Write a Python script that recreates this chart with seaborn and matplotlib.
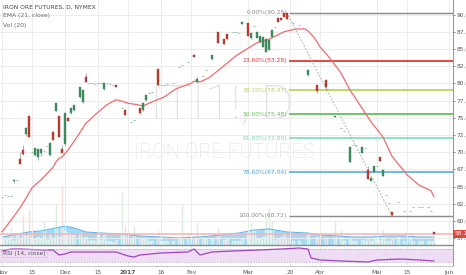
import numpy as np
import pandas as pd
import matplotlib
matplotlib.use("Agg")
import matplotlib.pyplot as plt
import matplotlib.transforms as mtransforms
import seaborn as sns

# ---------------- data (sessions counted from 2016-11-01) ----------------
session = [0, 1, 2, 3, 4, 5, 6, 7, 8, 9, 10, 11, 12, 13, 14, 15, 16, 17, 18, 19,
           20, 21, 22, 23, 24, 26, 27, 28, 29, 30, 31, 32, 33, 34, 35, 36, 37, 38,
           40, 41, 43, 44, 46, 47, 48, 49, 50, 52, 53, 54, 55, 57, 59, 60, 62,
           64, 65, 67, 68, 70, 72, 74, 75, 77, 78, 79, 80, 82, 83, 84, 85, 86,
           87, 88, 89, 90, 91, 92, 93, 94, 95, 97, 99, 102, 105, 108, 111, 113,
           114, 116, 117, 118, 120, 121, 122, 123, 124, 125, 126, 127, 128, 129,
           130, 132, 134, 136, 137, 139, 140, 142, 143, 144]
opens = [63.5, 63.7, 63.6, 63.6, 65.8, 65.9, 69.0, 70.3, 72.6, 75.2, 70.0, 69.6, 69.3, 69.8, 70.1, 70.9, 69.6, 72.9, 76.0, 75.2,
         70.4, 71.2, 75.0, 75.7, 76.1, 78.0, 77.3, 80.9, 80.0, 80.0, 79.9, 80.1, 80.0, 79.2, 80.0, 79.9, 79.8, 79.8,
         76.4, 76.1, 74.4, 74.7, 76.4, 76.1, 77.6, 78.6, 78.8, 82.1, 79.7, 79.8, 79.9, 80.0, 82.4, 82.6, 83.1,
         84.1, 80.2, 81.1, 81.9, 83.5, 87.5, 86.4, 87.2, 87.4, 87.5, 87.3, 88.6, 88.8, 86.6, 88.3, 86.6, 86.0,
         85.3, 84.5, 84.8, 86.7, 88.2, 89.5, 89.5, 90.2, 90.25, 88.8, 88.5, 81.2, 79.8, 80.5, 75.1, 73.5,
         73.1, 68.6, 71.1, 71.0, 69.9, 70.6, 67.4, 65.8, 67.1, 68.0, 69.3, 66.5, 63.8, 62.6,
         61.3, 62.7, 61.5, 61.4, 62.0, 62.0, 62.0, 62.0, 61.4, 58.35]
highs = [63.5, 63.7, 63.6, 63.6, 66.1, 65.9, 70.0, 71.0, 73.7, 75.2, 70.0, 70.6, 70.5, 70.5, 70.1, 70.9, 71.4, 73.0, 77.1, 75.3,
         71.0, 75.7, 75.1, 76.4, 76.8, 79.5, 79.0, 81.5, 80.0, 80.0, 79.9, 80.1, 80.0, 80.0, 80.0, 79.9, 79.8, 79.8,
         76.4, 76.2, 74.4, 74.7, 76.4, 77.1, 78.3, 78.6, 78.8, 82.1, 79.7, 79.8, 79.9, 80.0, 82.4, 82.6, 83.1,
         84.2, 80.9, 81.1, 81.9, 84.1, 87.5, 86.4, 87.2, 87.4, 87.5, 87.3, 88.9, 88.8, 87.3, 88.3, 87.5, 86.9,
         86.7, 86.4, 86.3, 87.7, 88.2, 89.6, 89.5, 90.2, 90.25, 88.8, 88.5, 81.9, 79.8, 80.5, 75.3, 73.5,
         73.1, 70.7, 71.1, 71.0, 70.7, 70.6, 68.0, 66.2, 68.0, 68.0, 69.3, 67.4, 63.8, 62.6,
         61.3, 62.7, 61.5, 61.4, 62.0, 62.0, 62.0, 62.0, 61.4, 58.4]
lows = [63.5, 63.7, 63.6, 63.6, 65.5, 65.9, 68.3, 69.6, 72.3, 72.2, 70.0, 69.4, 68.9, 69.5, 70.1, 70.9, 69.5, 71.8, 76.0, 72.2,
        69.8, 71.1, 74.5, 75.6, 76.0, 77.9, 77.2, 80.2, 80.0, 80.0, 79.9, 80.1, 80.0, 79.1, 80.0, 79.9, 79.8, 79.4,
        76.4, 75.4, 74.4, 74.7, 75.6, 76.0, 77.5, 78.6, 78.8, 79.6, 79.7, 79.8, 79.9, 80.0, 82.4, 82.6, 83.1,
        83.8, 80.0, 81.1, 81.9, 83.4, 85.9, 85.7, 86.5, 87.4, 87.5, 87.3, 88.6, 86.9, 86.5, 88.3, 86.6, 86.0,
        85.3, 84.5, 84.8, 86.7, 88.2, 88.9, 89.2, 89.6, 89.3, 88.8, 88.5, 81.1, 78.6, 79.0, 75.1, 73.5,
        73.1, 68.6, 71.1, 71.0, 69.9, 70.6, 66.1, 65.8, 67.1, 68.0, 68.7, 66.5, 63.8, 62.6,
        60.72, 62.7, 61.5, 61.4, 62.0, 62.0, 62.0, 62.0, 61.4, 58.15]
closes = [63.5, 63.7, 63.6, 63.6, 65.8, 65.9, 68.3, 69.7, 73.5, 72.2, 70.0, 70.6, 70.4, 70.4, 70.1, 70.9, 71.3, 71.8, 77.1, 72.2,
          69.9, 75.7, 74.5, 76.4, 76.8, 79.5, 79.0, 80.2, 80.0, 80.0, 79.9, 80.1, 80.0, 80.0, 80.0, 79.9, 79.8, 79.4,
          76.4, 75.4, 74.4, 74.7, 75.7, 77.1, 78.3, 78.6, 78.8, 79.8, 79.7, 79.8, 79.9, 80.0, 82.4, 82.6, 83.1,
          83.8, 80.6, 81.1, 81.9, 84.1, 85.9, 85.7, 86.5, 87.4, 87.5, 87.3, 88.9, 86.9, 87.3, 88.3, 87.5, 86.9,
          86.7, 86.4, 86.3, 87.7, 88.2, 88.9, 89.2, 89.6, 89.4, 88.8, 88.5, 81.9, 78.9, 79.5, 75.3, 73.5,
          73.1, 70.7, 71.1, 71.0, 70.7, 70.6, 66.1, 66.2, 68.0, 68.0, 68.7, 67.4, 63.8, 62.6,
          60.8, 62.7, 61.5, 61.4, 62.0, 62.0, 62.0, 62.0, 61.4, 58.15]
volume = [350, 60, 60, 180, 40, 120, 60, 300, 90, 350, 70, 60, 80, 60, 240, 50, 100, 60, 420, 80,
          600, 140, 120, 100, 100, 120, 70, 80, 40, 50, 40, 130, 50, 100, 40, 40, 30, 50,
          530, 200, 60, 190, 70, 60, 70, 40, 40, 150, 40, 40, 40, 40, 80, 420, 130,
          100, 230, 120, 60, 60, 180, 50, 60, 40, 40, 40, 60, 150, 220, 150, 60, 60,
          80, 280, 370, 250, 50, 60, 80, 120, 70, 40, 40, 120, 80, 70, 250, 150,
          40, 60, 40, 40, 50, 40, 70, 40, 100, 100, 50, 160, 40, 40,
          60, 80, 40, 80, 40, 40, 40, 40, 40, 40]

ema_session = [0, 3, 6, 8, 10, 14, 17, 18, 19, 20, 22, 25, 28, 32, 35, 38, 40, 42, 45, 47,
               50, 54, 58, 63, 64, 66, 69, 73, 78, 82, 85, 89, 94, 98, 101, 102, 104, 106, 109, 113,
               116, 120, 123, 127, 130, 135, 139, 143, 144]
ema_value = [58.4, 60.1, 61.9, 63.3, 64.8, 66.4, 67.8, 68.6, 69.1, 69.3, 70.3, 72.2, 74.2, 75.8, 76.9, 77.6, 77.4, 77.1, 76.9, 76.7,
             77.3, 78.0, 79.2, 80.0, 80.3, 80.2, 80.8, 82.2, 84.0, 85.1, 85.9, 86.4, 87.5, 87.9, 87.9, 87.6, 86.7, 85.3, 83.8, 81.5,
             79.0, 76.4, 74.4, 72.2, 69.4, 66.7, 65.2, 64.4, 63.5]

volma_session = [0, 9, 13, 18, 21, 24, 28, 33, 39, 46, 53, 59, 66, 73, 79, 84, 89, 95, 102, 106,
                 112, 117, 123, 128, 134, 139, 144]
volma_value = [80, 130, 140, 170, 190, 170, 130, 120, 110, 90, 80, 70, 80, 100, 120, 150, 160, 130, 120, 100,
               90, 80, 80, 90, 90, 80, 80]

rsi_session = [0, 3, 6, 14, 17, 19, 21, 23, 28, 33, 38, 42, 44, 46, 53, 62, 64, 66, 70, 77,
               86, 93, 99, 102, 103, 106, 113, 122, 125, 133, 139, 144]
rsi_value = [63.8, 70.0, 70.0, 66.9, 66.9, 51.5, 54.6, 60.8, 60.8, 60.8, 60.8, 48.5, 45.4, 51.5, 57.7, 60.8, 70.0, 51.5, 60.8, 63.8,
             66.9, 70.0, 73.0, 70.0, 42.3, 36.2, 33.1, 30.0, 36.2, 39.2, 36.2, 33.1]

tick_session = [0, 10, 21, 32, 42, 53, 63, 82, 96, 106, 125, 135, 149]
tick_labels = ["Nov", "15", "Dez", "15", "2017", "16", "Fev", "Mar", "20", "Abr", "Mai", "15", "Jun"]

fib_ratios = [0.0, 0.236, 0.382, 0.5, 0.618, 0.786, 1.0]
fib_high, fib_low = 90.25, 60.72
fib_high_session, fib_low_session = 95, 130
last_price = 58.15

# ---------------- styling ----------------
sns.set_theme(style="white")
plt.rcParams["font.family"] = ["DejaVu Sans"]

W, H = 466, 275
fig = plt.figure(figsize=(W / 100, H / 100), dpi=100)
fig.patch.set_facecolor("white")


def fx(px):
    return px / W


def fy(py):
    return 1 - py / H


ax = fig.add_axes([0, fy(245), fx(453), 245 / H])
axv = ax.twinx()
rsi = fig.add_axes([0, fy(266), fx(453), 20 / H])

xmin, xmax = -0.67, 150.33
ax.set_xlim(xmin, xmax)
rsi.set_xlim(xmin, xmax)
ax.set_ylim(56.5, 92.11)
axv.set_ylim(0, 2450)

ax.set_zorder(axv.get_zorder() + 1)
ax.patch.set_visible(False)
axv.patch.set_facecolor("white")

grid_c = "#ececec"
price_ticks = np.arange(57.5, 90.01, 2.5)
for t in tick_session:
    ax.axvline(t, color=grid_c, lw=0.7, zorder=0)
    rsi.axvline(t, color=grid_c, lw=0.7, zorder=0)
for t in price_ticks:
    ax.axhline(t, color=grid_c, lw=0.7, zorder=0)

df = pd.DataFrame({"session": session, "open": opens, "high": highs,
                   "low": lows, "close": closes, "volume": volume})

# volume
up = df["close"] >= df["open"]
axv.bar(df["session"][up], df["volume"][up], width=0.75, color="#b5dfb8", alpha=0.6, zorder=2)
axv.bar(df["session"][~up], df["volume"][~up], width=0.75, color="#ecb8b6", alpha=0.6, zorder=2)
vm = pd.DataFrame({"session": volma_session, "vol": volma_value})
axv.fill_between(vm["session"], 0, vm["vol"], color="#86cdf2", alpha=0.75, lw=0, zorder=1)
sns.lineplot(data=vm, x="session", y="vol", ax=axv, color="#5fbaea", lw=0.8, zorder=3)
axv.set_yticks([])
axv.set_ylabel("")
for s in axv.spines.values():
    s.set_visible(False)

# watermark
wm_font = ["Roboto", "DejaVu Sans"]
ax.text(fx(222), fy(106), "ITI1!, D", transform=fig.transFigure, ha="center", va="center",
        fontsize=35, color="#e2e2e2", zorder=0.5, family=wm_font, fontweight="light")
ax.text(fx(224), fy(152), "IRON ORE FUTURES", transform=fig.transFigure, ha="center", va="center",
        fontsize=14.5, color="#e2e2e2", zorder=0.5, family=wm_font, fontweight="light")

# EMA
ema_df = pd.DataFrame({"session": ema_session, "ema": ema_value})
sns.lineplot(data=ema_df, x="session", y="ema", ax=ax, color="#f26b6b", lw=0.9, zorder=4)

# candles
green_c, red_c, dash_c, wick_c = "#3d8a5c", "#b53a2f", "#9cc4a8", "#8c8c8c"
bw = 0.6
for _, r in df.iterrows():
    s, o, h, l, c = r["session"], r["open"], r["high"], r["low"], r["close"]
    if abs(c - o) < 0.05 and abs(h - l) < 0.05:
        ax.hlines(c, s - bw / 2, s + bw / 2, color=dash_c, lw=0.8, zorder=5)
        continue
    ax.vlines(s, l, h, color=wick_c, lw=0.5, zorder=5)
    col = green_c if c >= o else red_c
    lo, hi = min(o, c), max(o, c)
    if hi - lo < 0.15:
        hi = lo + 0.15
    ax.add_patch(plt.Rectangle((s - bw / 2, lo), bw, hi - lo, facecolor=col, edgecolor=col, lw=0.3, zorder=6))

# fibonacci
fib_cols = ["#8a8a8a", "#e53a33", "#b9d65c", "#63c25a", "#74d8b8", "#4aa3de", "#8a8a8a"]
fib_lw = [1.0, 1.3, 1.3, 1.3, 1.1, 1.1, 1.0]
for rto, col, lw in zip(fib_ratios, fib_cols, fib_lw):
    lvl = fib_high - rto * (fib_high - fib_low)
    ax.hlines(lvl, fib_high_session + 0.6, xmax, color=col, lw=lw, zorder=3)
    ax.text(fib_high_session, lvl, f"{rto * 100:.2f}%({lvl:.2f})", ha="right", va="center",
            fontsize=4.3, color=col, zorder=7)
ax.plot([fib_high_session, fib_low_session], [fib_high, fib_low], color="#a0a0a0",
        lw=0.6, ls=(0, (2, 2)), zorder=4)

# last price line & label
ax.axhline(last_price, color="#f5b3b3", lw=1.1, zorder=2)
trans = mtransforms.blended_transform_factory(ax.transAxes, ax.transData)
ax.text(1.004, last_price, f"{last_price:.2f}", transform=trans, ha="left", va="center",
        fontsize=4.2, color="white", clip_on=False, zorder=10,
        bbox=dict(boxstyle="square,pad=0.25", fc="#e0463a", ec="none"))

# price axis
ax.set_yticks(price_ticks)
ax.set_yticklabels([f"{t:.2f}" for t in price_ticks])
ax.yaxis.tick_right()
ax.tick_params(axis="y", labelsize=4.2, pad=1.2, length=1.5, width=0.5, colors="#555555")
ax.set_xticks([])
ax.set_xlabel("")
ax.set_ylabel("")
for k, s in ax.spines.items():
    s.set_visible(k in ("right", "bottom"))
ax.spines["right"].set_color("#9a9a9a")
ax.spines["right"].set_linewidth(0.8)
ax.spines["bottom"].set_color("#8a8a8a")
ax.spines["bottom"].set_linewidth(1.0)

# RSI
rsi.set_ylim(17.7, 79.2)
rsi.axhspan(30, 70, color="#efdcf5", zorder=0.2, lw=0)
rsi.axhline(70, color="#b49abd", lw=0.5, ls=(0, (2, 2)), zorder=1)
rsi.axhline(30, color="#b49abd", lw=0.5, ls=(0, (2, 2)), zorder=1)
rsi_df = pd.DataFrame({"session": rsi_session, "rsi": rsi_value})
sns.lineplot(data=rsi_df, x="session", y="rsi", ax=rsi, color="#a245bf", lw=0.9, zorder=3)
rsi.set_yticks([])
rsi.set_xticks(tick_session)
rsi.set_xticklabels(tick_labels)
rsi.tick_params(axis="x", labelsize=4.2, pad=1.5, length=1.5, width=0.5, colors="#555555")
for lab in rsi.get_xticklabels():
    if lab.get_text() == "2017":
        lab.set_fontweight("bold")
rsi.set_xlabel("")
rsi.set_ylabel("")
for k, s in rsi.spines.items():
    s.set_visible(k in ("right", "bottom"))
rsi.spines["right"].set_color("#9a9a9a")
rsi.spines["right"].set_linewidth(0.8)
rsi.spines["bottom"].set_color("#bdbdbd")
rsi.spines["bottom"].set_linewidth(0.6)
rsi.text(fx(3), fy(253), "RSI (14, close)", transform=fig.transFigure, ha="left", va="center",
         fontsize=4.2, color="#555555", zorder=5,
         bbox=dict(boxstyle="square,pad=0.2", fc="none", ec="#c8c8c8", lw=0.4))

# header texts
fig.text(fx(3), fy(7), "IRON ORE FUTURES, D, NYMEX", fontsize=4.3, color="#444444", va="center", ha="left")
fig.text(fx(3), fy(16), "EMA (21, close)", fontsize=4.3, color="#666666", va="center", ha="left")
fig.text(fx(3), fy(25), "Vol (20)", fontsize=4.3, color="#666666", va="center", ha="left")

fig.savefig("out.png", dpi=100, facecolor="white")
